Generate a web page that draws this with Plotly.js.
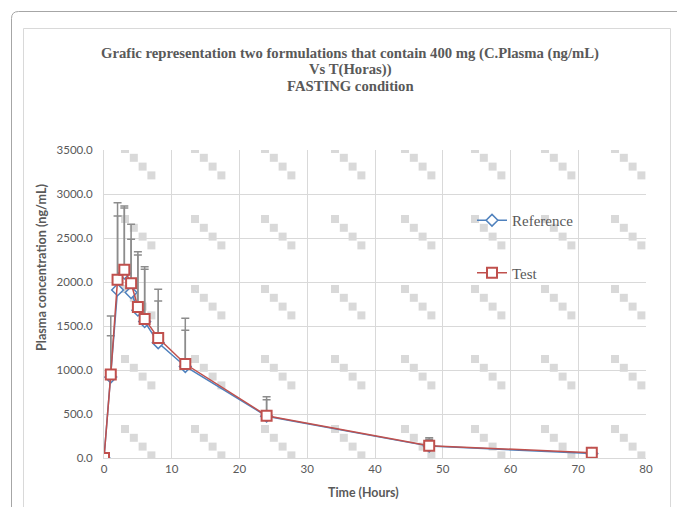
<!DOCTYPE html>
<html>
<head>
<meta charset="utf-8">
<script src="https://cdn.plot.ly/plotly-3.0.1.min.js"></script>
<style>
html,body{margin:0;padding:0;background:#fff;}
#chart{width:677px;height:507px;}
</style>
</head>
<body>
<div id="chart"></div>
<script>
// ---- data ----
var timeHours = [0, 1, 2, 3, 4, 5, 6, 8, 12, 24, 48, 72];
var referenceMean = [0, 920, 1910, 2100, 1880, 1680, 1550, 1310, 1040, 475, 135, 50];
var testMean = [0, 950, 2025, 2140, 1985, 1715, 1580, 1364, 1068, 481, 140, 60];
var referenceSD = [0, 470, 840, 740, 605, 627, 594, 474, 411, 188, 79, 40];
var testSD = [0, 664, 876, 725, 670, 630, 594, 553, 519, 216, 91, 40];
var zeros = [0, 0, 0, 0, 0, 0, 0, 0, 0, 0, 0, 0];
var seriesNames = ['Reference', 'Test'];
var titleLines = ['Grafic representation two formulations that contain 400 mg (C.Plasma (ng/mL)', 'Vs T(Horas))', 'FASTING condition'];

// ---- layout geometry (pixels) ----
var W = 677, H = 507;
var L = 104, R = 646, T = 150, B = 458;
function px(x) { return (x - L) / (R - L); }
function py(y) { return (B - y) / (B - T); }
function P(x, y) { return px(x) + ',' + py(y); }

var shapes = [];
// background pattern squares (decorative, clipped to plot area)
for (var i = 0; i < 8; i++) {
  for (var j = 0; j < 5; j++) {
    for (var k = 0; k < 4; k++) {
      var x0 = 121 + 70 * i + 8.8 * k, y0 = 145 + 70 * j + 8.8 * k;
      var x1 = x0 + 8, y1 = y0 + 8;
      x0 = Math.max(x0, L); x1 = Math.min(x1, R);
      y0 = Math.max(y0, T); y1 = Math.min(y1, B);
      if (x1 <= x0 || y1 <= y0) continue;
      shapes.push({type: 'rect', xref: 'paper', yref: 'paper', layer: 'below',
        x0: px(x0), x1: px(x1), y0: py(y0), y1: py(y1),
        fillcolor: '#D9D9D9', line: {width: 0}});
    }
  }
}
// outer rounded frame
shapes.push({type: 'path', xref: 'paper', yref: 'paper', layer: 'above',
  path: 'M' + P(11.5, 530) + ' L' + P(11.5, 18.5) + ' Q' + P(11.5, 11.5) + ' ' + P(18.5, 11.5) + ' L' + P(700, 11.5),
  line: {color: '#A6A6A6', width: 1}});
// inner chart-area frame
shapes.push({type: 'path', xref: 'paper', yref: 'paper', layer: 'above',
  path: 'M' + P(23.5, 530) + ' L' + P(23.5, 28.5) + ' L' + P(670.5, 28.5) + ' L' + P(670.5, 530),
  line: {color: '#D9D9D9', width: 1}});

var traces = [
  {
    x: timeHours, y: referenceMean, name: seriesNames[0], type: 'scatter', mode: 'lines+markers',
    legendgroup: 'a',
    line: {color: '#4F81BD', width: 1.5},
    marker: {symbol: 'diamond', size: 9, color: '#FFFFFF', line: {color: '#4F81BD', width: 1.5}},
    error_y: {type: 'data', symmetric: false, array: referenceSD, arrayminus: zeros,
      color: '#8C8C8C', thickness: 1.5, width: 4}
  },
  {
    x: timeHours, y: testMean, name: seriesNames[1], type: 'scatter', mode: 'lines+markers',
    legendgroup: 'b',
    line: {color: '#C0504D', width: 1.5},
    marker: {symbol: 'square', size: 10, color: '#FFFFFF', line: {color: '#C0504D', width: 2}},
    error_y: {type: 'data', symmetric: false, array: testSD, arrayminus: zeros,
      color: '#8C8C8C', thickness: 1.5, width: 4}
  }
];

var tickFont = {family: 'Lato, "Open Sans", sans-serif', size: 11.5, color: '#595959'};
var serif = '"Liberation Serif", "Times New Roman", serif';

var annotations = [
  {text: '<b>Time (Hours)</b>', xref: 'paper', yref: 'paper', x: px(363), y: py(492),
    xanchor: 'center', yanchor: 'middle', showarrow: false,
    font: {family: 'Lato, "Open Sans", sans-serif', size: 12.4, color: '#595959'}},
  {text: '<b>Plasma concentration (ng/mL)</b>', xref: 'paper', yref: 'paper', x: px(41), y: py(268),
    xanchor: 'center', yanchor: 'middle', showarrow: false, textangle: -90,
    font: {family: 'Lato, "Open Sans", sans-serif', size: 12.6, color: '#595959'}}
];
var titleY = [53, 69.5, 86];
for (var t = 0; t < titleLines.length; t++) {
  annotations.push({text: '<b>' + titleLines[t] + '</b>', xref: 'paper', yref: 'paper',
    x: px(350), y: py(titleY[t]), xanchor: 'center', yanchor: 'middle', showarrow: false,
    font: {family: serif, size: 14.7, color: '#595959'}});
}

var layout = {
  width: W, height: H, autosize: false,
  margin: {l: L, r: W - R, t: T, b: H - B, pad: 0},
  paper_bgcolor: '#FFFFFF', plot_bgcolor: 'rgba(0,0,0,0)',
  xaxis: {
    range: [0, 80], dtick: 10, tick0: 0, showgrid: true, gridcolor: '#D9D9D9', gridwidth: 1,
    zeroline: false, showline: true, linecolor: '#D9D9D9', linewidth: 1,
    ticks: '', tickfont: tickFont, fixedrange: true
  },
  yaxis: {
    range: [0, 3500], dtick: 500, tick0: 0, tickformat: '.1f', showgrid: true, gridcolor: '#D9D9D9', gridwidth: 1,
    zeroline: false, showline: true, linecolor: '#D9D9D9', linewidth: 1,
    ticks: 'outside', ticklen: 8, tickcolor: 'rgba(0,0,0,0)', tickfont: tickFont, fixedrange: true
  },
  showlegend: true,
  legend: {
    x: px(472), xanchor: 'left', y: py(204), yanchor: 'top',
    bgcolor: 'rgba(0,0,0,0)', borderwidth: 0,
    traceorder: 'grouped', tracegroupgap: 30,
    font: {family: serif, size: 15, color: '#595959'}
  },
  annotations: annotations,
  shapes: shapes
};

Plotly.newPlot('chart', traces, layout, {staticPlot: true, displayModeBar: false});
</script>
</body>
</html>
